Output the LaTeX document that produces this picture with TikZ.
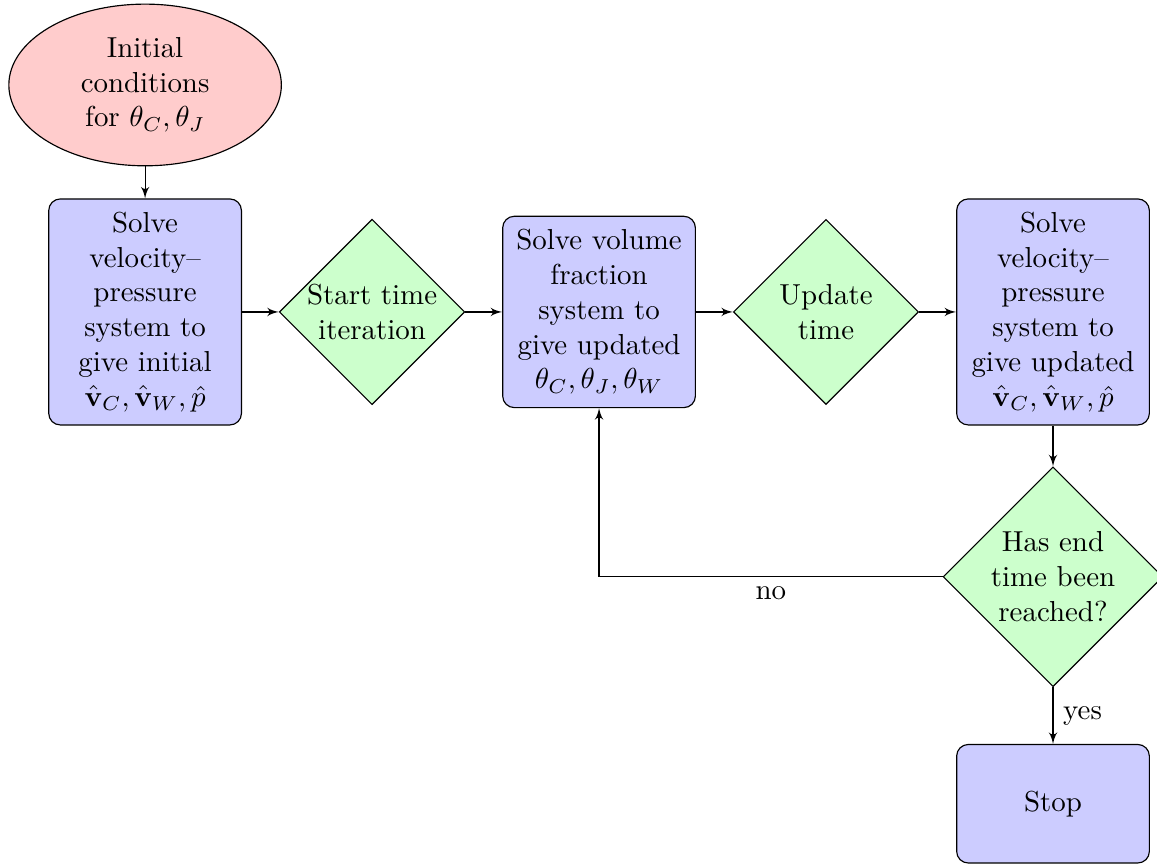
\documentclass[tikz,border=0pt]{standalone}
\usetikzlibrary{shapes.geometric, arrows, positioning}

\begin{document}
\begin{tikzpicture}[node distance=2.76cm, on grid, auto,
        block/.style={rectangle, draw, fill=blue!20, text width=6em, align=flush center, rounded corners, inner ysep=4.6pt, minimum height=4.1em},
        decision/.style={diamond, draw, fill=green!20, text width=4.5em, align=flush center, inner sep=0pt},
        cloud/.style={ellipse, draw, fill=red!20, text width=6em, align=flush center},
        line/.style={draw, -latex'}]
        % page size, the last diamond runs over the right edge
        \useasboundingbox (-50.2pt, 29.4pt) rectangle (350.1pt, -269.2pt);
        % nodes
        \node [cloud] (init) {Initial\\ conditions\\ for $\theta_C, \theta_J$};
        \node [block, below=of init] (solveinit) {Solve velocity--\allowbreak pressure system to give initial $\hat{\mathbf{v}}_C, \hat{\mathbf{v}}_W, \hat{p}$};
        \node [decision, right=of solveinit] (starttime) {Start time iteration};
        \node [block, right=of starttime] (volfrac) {Solve volume fraction system to give updated $\theta_C, \theta_J, \theta_W$};
        \node [decision, right=of volfrac] (updatetime) {Update time};
        \node [block, right=of updatetime] (solveupd) {Solve velocity--\allowbreak pressure system to give updated $\hat{\mathbf{v}}_C, \hat{\mathbf{v}}_W, \hat{p}$};
        \node [decision, below=3.22cm of solveupd] (endcheck) {Has end time been reached?};
        \node [block, below=of endcheck] (stop) {Stop};
        % edges
        \path [line] (init) -- (solveinit);
        \path [line] (solveinit) -- (starttime);
        \path [line] (starttime) -- (volfrac);
        \path [line] (volfrac) -- (updatetime);
        \path [line] (updatetime) -- (solveupd);
        \path [line] (solveupd) -- (endcheck);
        \path [line] (endcheck) -| node [near start] {no} (volfrac);
        \path [line] (endcheck) -- node {yes} (stop);
    \end{tikzpicture}
\end{document}
